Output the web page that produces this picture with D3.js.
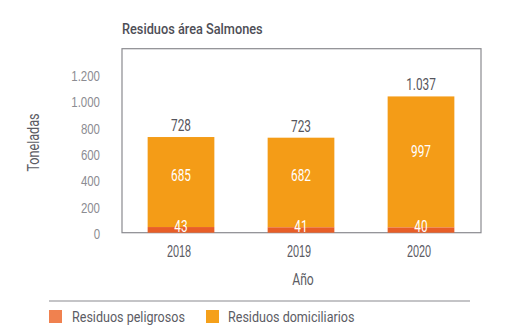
<!DOCTYPE html>
<html><head><meta charset="utf-8">
<script src="https://cdn.jsdelivr.net/npm/d3@7"></script>
<style>
body{margin:0;background:#fff;}
svg{display:block;font-family:"Roboto",sans-serif;}
</style></head>
<body><svg id="c" width="519" height="334"></svg>
<script>
const years = ["2018","2019","2020"];
const peligrosos = [43,41,40];
const domiciliarios = [685,682,997];
const totals = [728,723,1037];
const yTicks = [0,200,400,600,800,1000,1200];
const seriesNames = ["Residuos peligrosos","Residuos domiciliarios"];

const fmt = v => d3.format(",")(v).replace(/,/g,".");
const svg = d3.select("#c");
const L=122, R=481, T=48.7, B=232.7;
const x = d3.scaleBand().domain(years).range([121,481]).paddingInner(0.444).paddingOuter(0.222);
const y = d3.scaleLinear().domain([0,1200]).range([B,75]);

const cPel="#E85E27", cDom="#F49C17", cPelLeg="#F0814F", cDomLeg="#F5A01A";
const txt="#5c5c64";

// condensed text helper
function ct(sel, px, py, str, size, sx, opts={}){
  const t = sel.append("text").attr("transform",`translate(${px},${py}) scale(${sx},1)`)
    .attr("font-size",size).attr("fill",opts.fill||txt).text(str);
  if(opts.anchor) t.attr("text-anchor",opts.anchor);
  if(opts.weight) t.attr("font-weight",opts.weight);
  if(opts.dy) t.attr("dy",opts.dy);
  return t;
}

ct(svg,122,34,"Residuos área Salmones",14.5,0.88,{weight:500,fill:"#4e4e56"});

// frame
svg.append("rect").attr("x",L).attr("y",T).attr("width",R-L).attr("height",B-T)
  .attr("fill","none").attr("stroke","#8a8a8f").attr("stroke-width",1.2);

// y axis labels
const ya = svg.append("g").attr("transform",`translate(100,0)`)
  .call(d3.axisLeft(y).tickValues(yTicks).tickSize(0).tickPadding(0).tickFormat(fmt));
ya.select(".domain").remove();
ya.selectAll("text").attr("font-size",15.5).attr("fill","#8c8c92").attr("font-family","inherit")
  .attr("dy","0.36em").attr("transform","scale(0.74,1)");

// x axis labels
const xa = svg.append("g").attr("transform",`translate(-2,${B})`)
  .call(d3.axisBottom(x).tickSize(0).tickPadding(0).tickFormat(d=>d));
xa.select(".domain").remove();
xa.selectAll("text").attr("y",0).attr("font-size",16).attr("fill",txt).attr("font-family","inherit")
  .attr("dy","0").attr("transform","translate(0,24.5) scale(0.68,1)");

// bars
svg.selectAll(".dom").data(years).enter().append("rect")
  .attr("x",d=>x(d)).attr("width",x.bandwidth())
  .attr("y",(d,i)=>y(peligrosos[i]+domiciliarios[i]))
  .attr("height",(d,i)=>y(peligrosos[i])-y(peligrosos[i]+domiciliarios[i]))
  .attr("fill",cDom);
svg.selectAll(".pel").data(years).enter().append("rect")
  .attr("x",d=>x(d)).attr("width",x.bandwidth())
  .attr("y",(d,i)=>y(peligrosos[i]))
  .attr("height",(d,i)=>y(0)-y(peligrosos[i]))
  .attr("fill",cPel);

// labels
const cx = d=>x(d)+x.bandwidth()/2;
years.forEach((d,i)=>{
  ct(svg,cx(d),y(totals[i])-6,fmt(totals[i]),16,0.74,{anchor:"middle",fill:"#55555c"});
  ct(svg,cx(d),y(peligrosos[i]+domiciliarios[i]*0.58),fmt(domiciliarios[i]),16,0.74,{anchor:"middle",fill:"#fff",dy:"0.36em"});
  ct(svg,cx(d),B-1,fmt(peligrosos[i]),16,0.74,{anchor:"middle",fill:"#fff"});
});

// axis titles
ct(svg,303,285,"Año",16,0.76,{anchor:"middle"});
ct(svg.append("g").attr("transform","translate(39,142.5) rotate(-90)"),0,0,"Toneladas",16,0.79,{anchor:"middle"});

// legend
svg.append("line").attr("x1",49).attr("x2",470).attr("y1",301).attr("y2",301).attr("stroke","#8a8a8f").attr("stroke-width",1.2);
const lg = [[49,72,cPelLeg],[206,228,cDomLeg]];
seriesNames.forEach((n,i)=>{
  svg.append("rect").attr("x",lg[i][0]).attr("y",310).attr("width",13).attr("height",13).attr("fill",lg[i][2]);
  ct(svg,lg[i][1],322,n,15.5,0.81);
});
</script></body></html>
